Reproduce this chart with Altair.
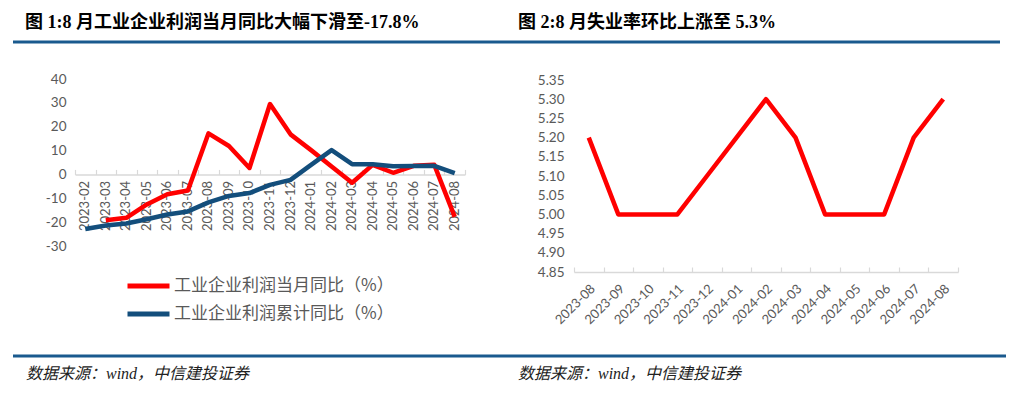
import altair as alt
import pandas as pd

# ---------------- data ----------------
months_left = ["2023-02", "2023-03", "2023-04", "2023-05", "2023-06", "2023-07",
               "2023-08", "2023-09", "2023-10", "2023-11", "2023-12", "2024-01",
               "2024-02", "2024-03", "2024-04", "2024-05", "2024-06", "2024-07", "2024-08"]
profit_monthly_yoy = [None, -19.2, -18.2, -12.6, -8.3, -6.7, 17.2, 11.9, 2.7, 29.5,
                      16.8, 10.2, 3.3, -3.5, 4.0, 0.7, 3.6, 4.1, -17.8]
profit_cumulative_yoy = [-22.9, -21.4, -20.6, -18.8, -16.8, -15.5, -11.7, -9.0, -7.8,
                         -4.4, -2.3, 4.0, 10.2, 4.3, 4.3, 3.4, 3.5, 3.6, 0.5]
series_names = ["工业企业利润当月同比（%）", "工业企业利润累计同比（%）"]
left_y_ticks = [-30, -20, -10, 0, 10, 20, 30, 40]

months_right = ["2023-08", "2023-09", "2023-10", "2023-11", "2023-12", "2024-01",
                "2024-02", "2024-03", "2024-04", "2024-05", "2024-06", "2024-07", "2024-08"]
unemployment_rate = [5.2, 5.0, 5.0, 5.0, 5.1, 5.2, 5.3, 5.2, 5.0, 5.0, 5.0, 5.2, 5.3]
right_y_ticks = [4.85, 4.90, 4.95, 5.00, 5.05, 5.10, 5.15, 5.20, 5.25, 5.30, 5.35]

title_left = "图 1:8 月工业企业利润当月同比大幅下滑至-17.8%"
title_right = "图 2:8 月失业率环比上涨至 5.3%"
source_note = "数据来源：wind，中信建投证券"

# ---------------- styles / layout ----------------
RED = "#FF0000"
BLUE = "#134E7C"
GRAY_TXT = "#595959"
AXIS_LINE = "#D9D9D9"
RULE_BLUE = "#1A5A8E"
W, H = 1008, 380

L_XR = [67, 457]
L_YR = [238, 71]
L_DOM = [-30, 40]
zero_y = L_YR[0] - (0 - L_DOM[0]) / (L_DOM[1] - L_DOM[0]) * (L_YR[0] - L_YR[1])

R_XR = [566, 950]
R_YR = [264, 72]

rows = []
for m, v in zip(months_left, profit_monthly_yoy):
    if v is not None:
        rows.append({"month": m, "series": series_names[0], "value": v})
for m, v in zip(months_left, profit_cumulative_yoy):
    rows.append({"month": m, "series": series_names[1], "value": v})
df_left = pd.DataFrame(rows)
df_right = pd.DataFrame({"month": months_right, "rate": unemployment_rate})

# ---------------- left chart ----------------
lx = alt.Scale(type="band", domain=months_left, range=L_XR, paddingInner=0, paddingOuter=0)
ly = alt.Scale(domain=L_DOM, range=L_YR, nice=False, zero=False)

left_bottom_axis = alt.Axis(orient="bottom", offset=zero_y - H, ticks=False, tickSize=0,
                            domain=True, domainColor=AXIS_LINE, domainWidth=1.5,
                            labelAngle=270, labelPadding=6, labelFont="Lato",
                            labelFontSize=13, labelColor=GRAY_TXT, grid=False,
                            title=None, labelOverlap=False)
left_top_axis = alt.Axis(orient="top", offset=-zero_y, ticks=True, tickBand="extent",
                         tickSize=5, tickColor=AXIS_LINE, tickWidth=1.2, labels=False,
                         domain=False, grid=False, title=None)
left_y_axis = alt.Axis(orient="left", offset=-62, values=left_y_ticks, domain=False,
                       ticks=False, tickSize=0, labelPadding=4, labelFont="Lato",
                       labelFontSize=13.5, labelColor=GRAY_TXT, grid=False, title=None,
                       labelExpr="toString(datum.value)")

left_lines = alt.Chart(df_left).mark_line(strokeWidth=4.5, strokeJoin="round").encode(
    x=alt.X("month:N", scale=lx, sort=months_left, axis=left_bottom_axis, bandPosition=0.5),
    y=alt.Y("value:Q", scale=ly, axis=left_y_axis),
    color=alt.Color("series:N",
                    scale=alt.Scale(domain=series_names, range=[RED, BLUE]),
                    legend=alt.Legend(orient="none", legendX=117, legendY=269,
                                      direction="vertical", title=None,
                                      symbolType="stroke", symbolSize=1764,
                                      symbolStrokeWidth=5, labelFont="Noto Sans CJK SC",
                                      labelFontSize=17, labelColor=GRAY_TXT,
                                      labelLimit=400, rowPadding=10, clipHeight=18,
                                      labelOffset=2, padding=0)),
)
left_ticks = alt.Chart(df_left).mark_point(opacity=0).encode(
    x=alt.X("month:N", scale=lx, sort=months_left, axis=left_top_axis, bandPosition=0.5),
    y=alt.Y("value:Q", scale=ly, axis=None),
)
left = alt.layer(left_lines, left_ticks).resolve_axis(x="independent", y="independent")

# ---------------- right chart ----------------
rx = alt.Scale(type="band", domain=months_right, range=R_XR, paddingInner=0, paddingOuter=0)
ry = alt.Scale(domain=[4.85, 5.35], range=R_YR, nice=False, zero=False)

right_bottom_axis = alt.Axis(orient="bottom", offset=R_YR[0] - H, ticks=False, tickSize=0,
                             domain=True, domainColor=AXIS_LINE, domainWidth=1.5,
                             labelAngle=315, labelPadding=10, labelFont="Lato",
                             labelFontSize=13, labelColor=GRAY_TXT, grid=False,
                             title=None, labelOverlap=False)
right_top_axis = alt.Axis(orient="top", offset=-R_YR[0], ticks=True, tickBand="extent",
                          tickSize=5, tickColor=AXIS_LINE, tickWidth=1.2, labels=False,
                          domain=False, grid=False, title=None)
right_y_axis = alt.Axis(orient="left", offset=-560, values=right_y_ticks, domain=False,
                        ticks=False, tickSize=0, labelPadding=4, labelFont="Lato",
                        labelFontSize=13.5, labelColor=GRAY_TXT, grid=False, title=None,
                        format=".2f")

right_line = alt.Chart(df_right).mark_line(color=RED, strokeWidth=4.5, strokeJoin="round").encode(
    x=alt.X("month:N", scale=rx, sort=months_right, axis=right_bottom_axis, bandPosition=0.5),
    y=alt.Y("rate:Q", scale=ry, axis=right_y_axis),
)
right_ticks = alt.Chart(df_right).mark_point(opacity=0).encode(
    x=alt.X("month:N", scale=rx, sort=months_right, axis=right_top_axis, bandPosition=0.5),
    y=alt.Y("rate:Q", scale=ry, axis=None),
)
right = alt.layer(right_line, right_ticks).resolve_axis(x="independent", y="independent")

# ---------------- decorations ----------------
def deco_text(text, x, y, size, weight="normal", style="normal", color="#000000"):
    return alt.Chart(pd.DataFrame({"t": [text]})).mark_text(
        align="left", baseline="middle", font="Liberation Serif, Noto Sans CJK SC",
        fontSize=size, fontWeight=weight, fontStyle=style, color=color,
    ).encode(x=alt.value(x), y=alt.value(y), text="t:N")


def deco_rule(x1, x2, y, width, color):
    return alt.Chart(pd.DataFrame({"r": [0]})).mark_rule(color=color, strokeWidth=width).encode(
        x=alt.value(x1), x2=alt.value(x2), y=alt.value(y))


decos = [
    deco_text(title_left, 17, 15, 18, weight="bold"),
    deco_text(title_right, 510, 15, 18, weight="bold"),
    deco_rule(5, 992, 34, 3, RULE_BLUE),
    deco_rule(5, 998, 348, 3, RULE_BLUE),
    deco_text(source_note, 18, 366, 16, style="italic", color="#222222"),
    deco_text(source_note, 510, 366, 16, style="italic", color="#222222"),
]

chart = alt.layer(left, right, *decos).resolve_scale(
    x="independent", y="independent", color="independent"
).resolve_axis(x="independent", y="independent").properties(
    width=W, height=H, autosize=alt.AutoSizeParams(type="none"), padding=0
).configure_view(stroke=None)

chart.save("out.html", embed_options={"renderer": "svg", "actions": False})
